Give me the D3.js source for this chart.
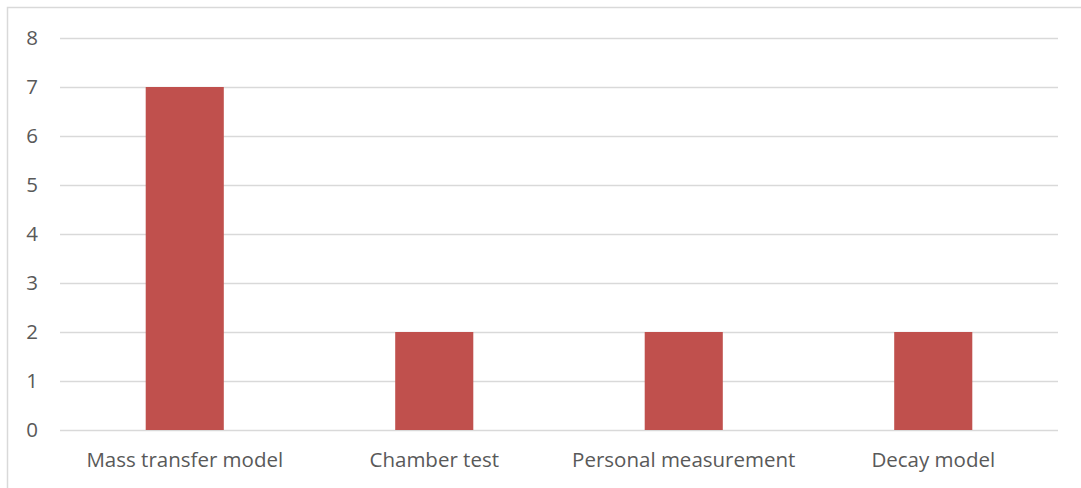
<!DOCTYPE html>
<html>
<head>
<meta charset="utf-8">
<script src="https://cdn.jsdelivr.net/npm/d3@7/dist/d3.min.js"></script>
<style>
  html, body { margin: 0; padding: 0; background: #fff; }
  svg text { font-family: "Open Sans", "Noto Sans", sans-serif; fill: #595959; }
</style>
</head>
<body>
<svg id="chart" width="1081" height="488"></svg>
<script>
// Counts per method
const categories = ["Mass transfer model", "Chamber test", "Personal measurement", "Decay model"];
const counts = [7, 2, 2, 2];
const yTicks = [0, 1, 2, 3, 4, 5, 6, 7, 8];

const svg = d3.select("#chart");
const W = 1081, H = 488;
const margin = { left: 60, right: 23, top: 38, bottom: 58 };
const fontSize = "20.5px";

// Chart frame
svg.append("rect")
  .attr("x", 7.5).attr("y", 7.5)
  .attr("width", W + 10).attr("height", H + 10)
  .attr("fill", "none").attr("stroke", "#d9d9d9").attr("stroke-width", 1.5);

const x = d3.scaleBand()
  .domain(categories)
  .range([margin.left, W - margin.right])
  .paddingInner(0.687)
  .paddingOuter(0.687 / 2);

const y = d3.scaleLinear()
  .domain([0, 8])
  .range([H - margin.bottom, margin.top]);

// Gridlines
const grid = d3.axisLeft(y)
  .tickValues(yTicks)
  .tickSize(-(W - margin.left - margin.right))
  .tickFormat("");
svg.append("g")
  .attr("transform", `translate(${margin.left},0)`)
  .call(grid)
  .call(g => g.select(".domain").remove())
  .call(g => g.selectAll("line").attr("stroke", "#d9d9d9").attr("stroke-width", 1.3));

// Y tick labels
const yAxis = d3.axisLeft(y).tickValues(yTicks).tickSize(0).tickPadding(22);
svg.append("g")
  .attr("transform", `translate(${margin.left},0)`)
  .call(yAxis)
  .call(g => g.select(".domain").remove())
  .call(g => g.selectAll("text").style("font-size", fontSize));

// Bars
svg.append("g").selectAll("rect")
  .data(categories)
  .join("rect")
  .attr("x", d => x(d))
  .attr("width", x.bandwidth())
  .attr("y", (d, i) => y(counts[i]))
  .attr("height", (d, i) => y(0) - y(counts[i]))
  .attr("fill", "#c0504d");

// X axis labels
const xAxis = d3.axisBottom(x).tickSize(0).tickPadding(22);
svg.append("g")
  .attr("transform", `translate(0,${y(0)})`)
  .call(xAxis)
  .call(g => g.select(".domain").remove())
  .call(g => g.selectAll("text").style("font-size", fontSize));
</script>
</body>
</html>
